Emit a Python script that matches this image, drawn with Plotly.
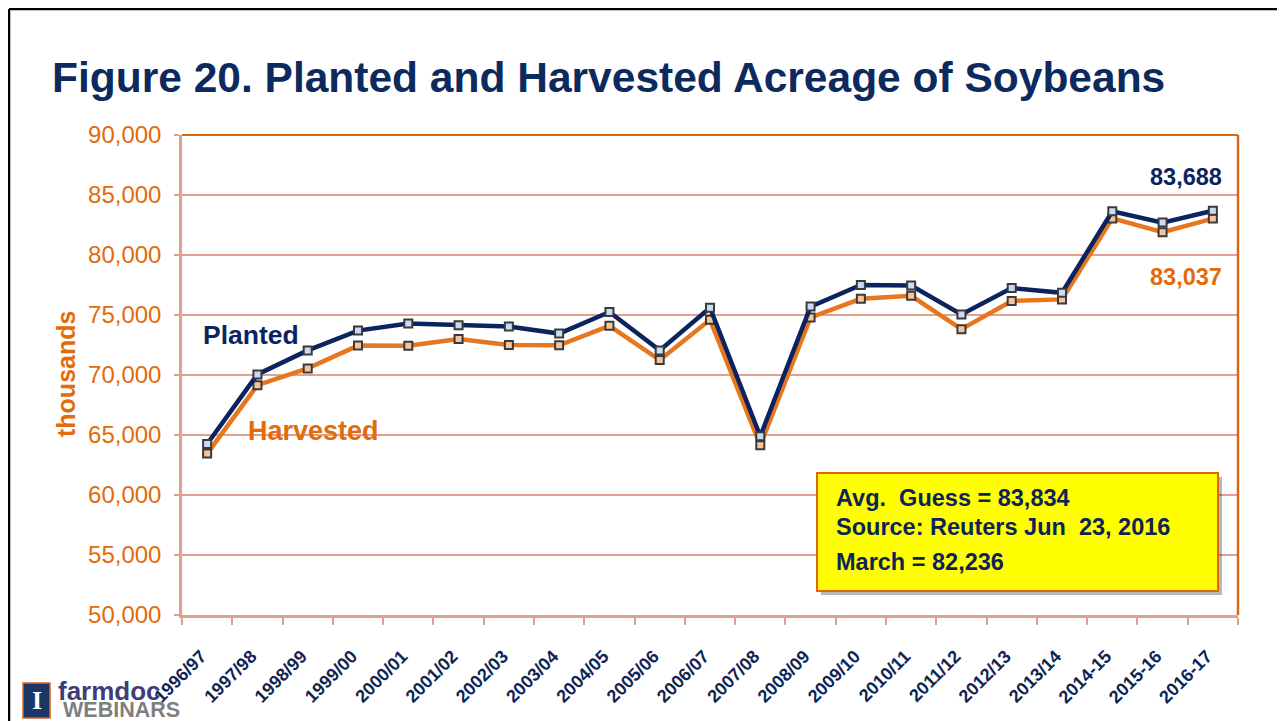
import plotly.graph_objects as go

# The page body has an 8px margin; the figure is shifted to compensate.
OFF = 8
W, H = 1285 - OFF, 721 - OFF
L, R, T, B = 182 - OFF, 1238 - OFF, 135 - OFF, 615 - OFF

years = ["1996/97", "1997/98", "1998/99", "1999/00", "2000/01", "2001/02", "2002/03",
         "2003/04", "2004/05", "2005/06", "2006/07", "2007/08", "2008/09", "2009/10",
         "2010/11", "2011/12", "2012/13", "2013/14", "2014-15", "2015-16", "2016-17"]
planted = [64250, 70050, 72050, 73700, 74300, 74150, 74050, 73450, 75250, 72050, 75600,
           64900, 75700, 77500, 77450, 75050, 77250, 76850, 83650, 82700, 83688]
harvested = [63450, 69150, 70550, 72450, 72430, 73000, 72500, 72480, 74100, 71250, 74600,
             64150, 74800, 76350, 76600, 73820, 76170, 76300, 83050, 81900, 83037]
y_ticks = [50000, 55000, 60000, 65000, 70000, 75000, 80000, 85000, 90000]

NAVY = "#0B2460"
ORANGE = "#E8761E"
TXT_OR = "#E26B0A"
GRID = "#E4A08E"
FONT = "Liberation Sans, Arial"


def px(x):
    """reference-image pixel x -> paper x"""
    return (x - OFF - L) / (R - L)


def py(y):
    """reference-image pixel y -> paper y"""
    return (B - (y - OFF)) / (B - T)


fig = go.Figure()
fig.add_trace(go.Scatter(
    x=years, y=harvested, mode="lines+markers", name="Harvested",
    line=dict(color=ORANGE, width=4.5),
    marker=dict(symbol="square", size=8, color="#F8C49A", line=dict(color="#3A3A3A", width=2)),
))
fig.add_trace(go.Scatter(
    x=years, y=planted, mode="lines+markers", name="Planted",
    line=dict(color=NAVY, width=4.5),
    marker=dict(symbol="square", size=8, color="#CADCF4", line=dict(color="#3A3A3A", width=2)),
))

shapes = [
    # slide border
    dict(type="line", xref="paper", yref="paper", x0=px(9), x1=px(1300), y0=py(9), y1=py(9),
         line=dict(color="black", width=2.5)),
    dict(type="line", xref="paper", yref="paper", x0=px(9), x1=px(9), y0=py(9), y1=py(730),
         line=dict(color="black", width=2.5)),
    # plot frame top & right
    dict(type="line", xref="paper", yref="paper", x0=0, x1=1, y0=1, y1=1,
         line=dict(color="#E0660C", width=2)),
    dict(type="line", xref="paper", yref="paper", x0=1, x1=1, y0=0, y1=1,
         line=dict(color="#E0660C", width=2.5)),
    # box shadow
    dict(type="rect", xref="paper", yref="paper", x0=px(821), x1=px(1222), y0=py(595), y1=py(477),
         fillcolor="rgba(0,0,0,0.28)", line=dict(width=0)),
    # yellow box
    dict(type="rect", xref="paper", yref="paper", x0=px(817), x1=px(1218), y0=py(591), y1=py(473),
         fillcolor="#FFFF00", line=dict(color="#E0660C", width=2)),
    # logo icon
    dict(type="rect", xref="paper", yref="paper", x0=px(23), x1=px(50), y0=py(718), y1=py(683),
         fillcolor="#1B3766", line=dict(color="#D9661F", width=1.5)),
]

ann = []
ann.append(dict(text="<b>Figure 20. Planted and Harvested Acreage of Soybeans</b>",
                xref="paper", yref="paper", x=px(50), y=py(77), xanchor="left", yanchor="middle",
                showarrow=False, font=dict(size=42.5, color="#0D2A5E", family=FONT)))
ann.append(dict(text="<b>thousands</b>", xref="paper", yref="paper", x=px(66), y=py(374),
                textangle=-90, showarrow=False, xanchor="center", yanchor="middle",
                font=dict(size=25, color=TXT_OR, family=FONT)))
ann.append(dict(text="<b>Planted</b>", xref="paper", yref="paper", x=px(201), y=py(335),
                xanchor="left", yanchor="middle", showarrow=False,
                font=dict(size=26.5, color=NAVY, family=FONT)))
ann.append(dict(text="<b>Harvested</b>", xref="paper", yref="paper", x=px(246), y=py(431),
                xanchor="left", yanchor="middle", showarrow=False,
                font=dict(size=27, color=TXT_OR, family=FONT)))
ann.append(dict(text="<b>83,688</b>", xref="paper", yref="paper", x=px(1224), y=py(177),
                xanchor="right", yanchor="middle", showarrow=False,
                font=dict(size=23.5, color=NAVY, family=FONT)))
ann.append(dict(text="<b>83,037</b>", xref="paper", yref="paper", x=px(1224), y=py(277),
                xanchor="right", yanchor="middle", showarrow=False,
                font=dict(size=23.5, color=TXT_OR, family=FONT)))
for txt, yy in [("Avg.  Guess = 83,834", 498), ("Source: Reuters Jun  23, 2016", 527), ("March = 82,236", 562)]:
    ann.append(dict(text="<b>" + txt + "</b>", xref="paper", yref="paper", x=px(834), y=py(yy),
                    xanchor="left", yanchor="middle", showarrow=False,
                    font=dict(size=23.5, color="#0D2455", family=FONT)))
# logo
ann.append(dict(text="<b>I</b>", xref="paper", yref="paper", x=px(36.5), y=py(700),
                xanchor="center", yanchor="middle", showarrow=False,
                font=dict(size=26, color="white", family="Liberation Serif, serif")))
ann.append(dict(text="<b>farmdoc</b>", xref="paper", yref="paper", x=px(56), y=py(691),
                xanchor="left", yanchor="middle", showarrow=False,
                font=dict(size=26, color="#3D3D7A", family=FONT)))
ann.append(dict(text="<b>WEBINARS</b>", xref="paper", yref="paper", x=px(61), y=py(710),
                xanchor="left", yanchor="middle", showarrow=False,
                font=dict(size=21.5, color="#7F7F7F", family=FONT)))

fig.update_layout(
    width=W, height=H,
    margin=dict(l=L, r=W - R, t=T, b=H - B),
    paper_bgcolor="white", plot_bgcolor="white",
    showlegend=False,
    shapes=shapes, annotations=ann,
    font=dict(family=FONT),
)
fig.update_xaxes(
    type="category", categoryorder="array", categoryarray=years,
    tickangle=-45, tickson="boundaries", ticks="outside", ticklen=7, tickwidth=2, tickcolor=GRID,
    showline=True, linecolor=GRID, linewidth=2.5, showgrid=False,
    tickfont=dict(size=18, color="#0D2455", family=FONT, weight="bold"),
    ticklabelstandoff=21, ticklabelshift=-6, automargin=False,
    range=[-0.5, len(years) - 0.5],
)
fig.update_yaxes(
    range=[50000, 90000], tickvals=y_ticks, tickformat=",",
    ticks="outside", ticklen=5, tickwidth=2, tickcolor=GRID,
    showline=True, linecolor=GRID, linewidth=2.5,
    showgrid=True, gridcolor=GRID, gridwidth=2, zeroline=False,
    tickfont=dict(size=24, color=TXT_OR, family=FONT),
    ticklabelstandoff=8, automargin=False,
)

fig.write_html("out.html")
